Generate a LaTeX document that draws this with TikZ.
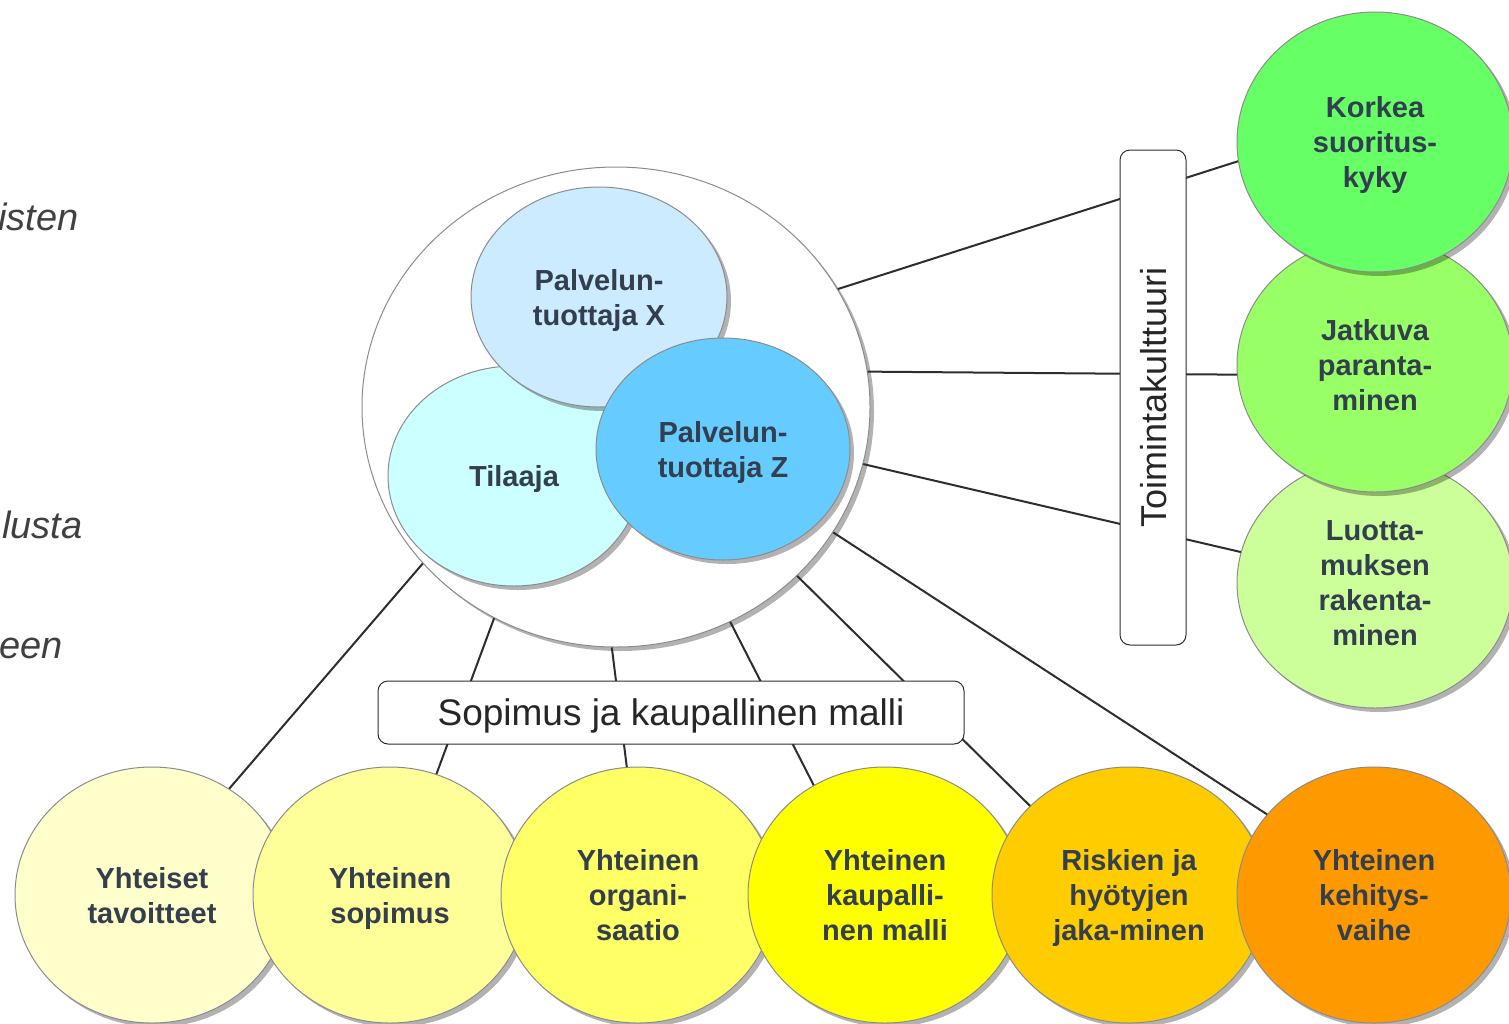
\documentclass[tikz,border=0pt]{standalone}
\usepackage{fontspec}
\setmainfont{Liberation Sans}
\usepackage{tikz}
\usepackage{xcolor}
\usetikzlibrary{shapes}
\usetikzlibrary{shadows}
\usetikzlibrary{positioning}

\definecolor{labeltext}{RGB}{51,63,79}
\definecolor{bordergray}{RGB}{140,140,140}
\definecolor{linegray}{RGB}{45,45,45}
\definecolor{xblue}{HTML}{CCEBFF}
\definecolor{tilaajacyan}{HTML}{CCFFFF}
\definecolor{zblue}{HTML}{66CCFF}
\definecolor{greenone}{HTML}{66FF66}
\definecolor{greentwo}{HTML}{99FF66}
\definecolor{greenthree}{HTML}{CCFF99}
\definecolor{yellowone}{HTML}{FFFFCC}
\definecolor{yellowtwo}{HTML}{FFFF99}
\definecolor{yellowthree}{HTML}{FFFF66}
\definecolor{yellowfour}{HTML}{FFFF00}
\definecolor{orangeone}{HTML}{FFCC00}
\definecolor{orangetwo}{HTML}{FF9900}

\begin{document}
\begin{tikzpicture}[x=0.5pt, y=-0.5pt,
    bubble/.style={ellipse, draw=bordergray, line width=0.5pt, inner sep=0pt, text depth=0pt, align=center, text=labeltext, font=\fontsize{14.5}{17.5}\selectfont\bfseries, drop shadow={shadow xshift=2pt, shadow yshift=-2pt, opacity=0.3, fill=black}},
    labelbox/.style={rectangle, rounded corners=5pt, draw=linegray, fill=white, line width=0.5pt, inner sep=0pt, text depth=0pt, text=black!85, font=\fontsize{18.5}{22}\selectfont},
    link/.style={draw=linegray, line width=1pt},
    sidetext/.style={inner sep=0pt, text=black!75, font=\fontsize{19}{22}\selectfont\itshape}]
    \useasboundingbox (0,0) rectangle (1509,1023);
    \clip (0,0) rectangle (1509,1023);

    \node[sidetext, anchor=east] (side_top) at (79,217) {isten};
    \node[sidetext, anchor=east] (side_mid) at (83,525) {lusta};
    \node[sidetext, anchor=east] (side_low) at (63,648) {een};

    \node[bubble, fill=white, minimum width=254pt, minimum height=240pt] (alliance) at (616,407) {};
    \node[bubble, fill=tilaajacyan, minimum width=126pt, minimum height=110pt] (tilaaja) at (514,476) {Tilaaja};
    \node[bubble, fill=xblue, minimum width=128pt, minimum height=110pt] (tuottaja_x) at (599,297) {Palvelun-\\tuottaja X};
    \node[bubble, fill=zblue, minimum width=127pt, minimum height=111pt] (tuottaja_z) at (723,449) {Palvelun-\\tuottaja Z};

    \node[bubble, fill=greenthree, minimum width=138pt, minimum height=125pt] (luottamus) at (1375,583) {Luotta-\\muksen\\rakenta-\\minen};
    \node[bubble, fill=greentwo, minimum width=138pt, minimum height=127pt] (jatkuva) at (1375,365) {Jatkuva\\paranta-\\minen};
    \node[bubble, fill=greenone, minimum width=138pt, minimum height=130pt] (korkea) at (1375,142) {Korkea\\suoritus-\\kyky};

    \node[bubble, fill=yellowone, minimum width=137pt, minimum height=128pt] (yhteiset) at (152,895) {Yhteiset\\tavoitteet};
    \node[bubble, fill=yellowtwo, minimum width=137pt, minimum height=128pt] (sopimus) at (390,895) {Yhteinen\\sopimus};
    \node[bubble, fill=yellowthree, minimum width=137pt, minimum height=128pt] (organisaatio) at (638,895) {Yhteinen\\organi-\\saatio};
    \node[bubble, fill=yellowfour, minimum width=137pt, minimum height=128pt] (kaupallinen) at (885,895) {Yhteinen\\kaupalli-\\nen malli};
    \node[bubble, fill=orangeone, minimum width=137pt, minimum height=128pt] (riskit) at (1129,895) {Riskien ja\\hyötyjen\\jaka-minen};
    \node[bubble, fill=orangetwo, minimum width=137pt, minimum height=128pt] (kehitys) at (1374,895) {Yhteinen\\kehitys-\\vaihe};

    \draw[link] (alliance.219) -- (yhteiset.54);
    \draw[link] (alliance.240) -- (sopimus.69);
    \draw[link] (alliance.269) -- (organisaatio.95);
    \draw[link] (alliance.298) -- (kaupallinen.123);
    \draw[link] (alliance.317) -- (riskit.138);
    \draw[link] (alliance.330) -- (kehitys.143);
    \draw[link] (alliance.28) -- (korkea.188);
    \draw[link] (alliance.8) -- (jatkuva.184);
    \draw[link] (alliance.347) -- (luottamus.167);

    \node[labelbox, minimum width=293pt, minimum height=31.5pt] (sopimus_malli) at (671,712.5) {Sopimus ja kaupallinen malli};
    \node[labelbox, rotate=90, minimum width=247.5pt, minimum height=33pt, font=\fontsize{18}{22}\selectfont] (toimintakulttuuri) at (1153,397.5) {Toimintakulttuuri};
\end{tikzpicture}
\end{document}
